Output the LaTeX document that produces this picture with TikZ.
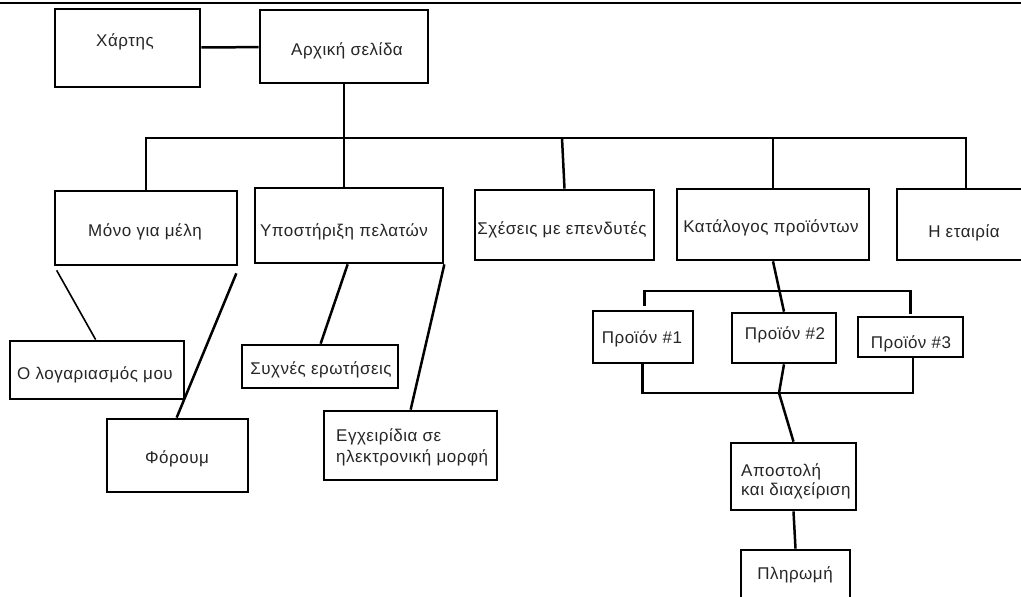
\documentclass[tikz,border=0pt]{standalone}
\usepackage{fontspec}
\setmainfont{Liberation Sans}[LetterSpace=3]
\usetikzlibrary{calc}
\begin{document}
\begin{tikzpicture}[x=1pt,y=-1pt,
  box/.style={draw=black, line width=2.7pt, rectangle, inner sep=0pt},
  lbl/.style={anchor=base, inner sep=0pt, text=black!85, font=\fontsize{17}{20}\selectfont},
  lblw/.style={lbl, anchor=base west, align=left},
  wire/.style={draw=black, line width=2.5pt}]
\useasboundingbox (0,0) rectangle (1021,597);
\clip (0,0) rectangle (1021,597);
\fill[white] (0,0) rectangle (1021,597);

% rule across the top
\coordinate (ruleL) at (0,3);
\coordinate (ruleR) at (1021,3);
\draw[wire] (ruleL) -- (ruleR);

% boxes
\node[box, minimum width=145, minimum height=78] (harti)     at (127.5,48)  {};
\node[box, minimum width=168, minimum height=73] (arxiki)    at (344,46.5)  {};
\node[box, minimum width=182, minimum height=74] (mono)      at (146,228)   {};
\node[box, minimum width=188, minimum height=75] (ypost)     at (349,225.5) {};
\node[box, minimum width=179, minimum height=70] (sxeseis)   at (564.5,225) {};
\node[box, minimum width=192, minimum height=71] (katalogos) at (773,224.5) {};
\node[box, minimum width=138, minimum height=71] (etairia)   at (966,224.5) {};
\node[box, minimum width=174, minimum height=58] (logar)     at (97,370)    {};
\node[box, minimum width=141, minimum height=73] (forum)     at (177.5,455.5) {};
\node[box, minimum width=156, minimum height=43] (syxnes)    at (320,366.5) {};
\node[box, minimum width=173, minimum height=69] (egxeir)    at (410.5,445.5) {};
\node[box, minimum width=100, minimum height=52] (p1)        at (643,337)   {};
\node[box, minimum width=104, minimum height=50] (p2)        at (784,338)   {};
\node[box, minimum width=105, minimum height=40] (p3)        at (910.5,337) {};
\node[box, minimum width=125, minimum height=67] (apostoli)  at (793.5,476.5) {};
\node[box, minimum width=109, minimum height=60] (plirwmi)   at (795.5,580) {};

% labels (two-line labels are placed by their last baseline)
\node[lbl] (tharti)     at (125,46)  {Χάρτης};
\node[lbl] (tarxiki)    at (347,56)  {Αρχική σελίδα};
\node[lbl] (tmono)      at (145,236) {Μόνο για μέλη};
\node[lbl] (typost)     at (344,236) {Υποστήριξη πελατών};
\node[lbl] (tsxeseis)   at (562,234) {Σχέσεις με επενδυτές};
\node[lbl] (tkatalogos) at (771,232) {Κατάλογος προϊόντων};
\node[lbl] (tetairia)   at (964,237) {Η εταιρία};
\node[lbl] (tlogar)     at (95,379)  {Ο λογαριασμός μου};
\node[lbl] (tforum)     at (177,463) {Φόρουμ};
\node[lbl] (tsyxnes)    at (321,374) {Συχνές ερωτήσεις};
\node[lblw, font=\fontsize{17}{21}\selectfont] (tegxeir) at (336,462.7) {Εγχειρίδια σε\\ηλεκτρονική μορφή};
\node[lbl] (tp1)        at (642,343) {Προϊόν \#1};
\node[lbl] (tp2)        at (785,339) {Προϊόν \#2};
\node[lbl] (tp3)        at (911,348) {Προϊόν \#3};
\node[lblw, font=\fontsize{17}{19}\selectfont] (tapostoli) at (741,495) {Αποστολή\\και διαχείριση};
\node[lbl] (tplirwmi)   at (795,579) {Πληρωμή};

% main tree
\coordinate (bus) at (0,138);
\draw[wire] (harti) -- (arxiki);
\draw[wire] (arxiki.south) -- (arxiki.south |- ypost.north);
\draw[wire] (mono.north) -- (mono.north |- bus) -- (etairia.north |- bus) -- (etairia.north);
\draw[wire] ([xshift=-2.5pt]sxeseis.north |- bus) -- (sxeseis.north);
\draw[wire] (katalogos.north |- bus) -- (katalogos.north);

% member and support branches
\draw[wire, line width=1.6pt] ([xshift=3pt,yshift=-4pt]mono.south west) -- ([xshift=87pt]logar.north west);
\draw[wire] ([xshift=-2pt,yshift=-7pt]mono.south east) -- ([xshift=71pt]forum.north west);
\draw[wire] ([xshift=94pt]ypost.south west) -- ([xshift=80pt]syxnes.north west);
\draw[wire] (ypost.south east) -- ([xshift=88pt]egxeir.north west);

% product catalogue
\coordinate (pbusTop) at (0,291);
\coordinate (pbusBot) at (0,393);
\coordinate (pjoin) at (779,393);
\draw[wire] (katalogos.south) -- (p2.north);
\draw[wire] ([xshift=53pt,yshift=4pt]p1.north west) |- (pbusTop -| p3.north) -- ([yshift=2pt]p3.north);
\draw[wire] ([xshift=51pt]p1.south west) |- (pbusBot -| p3.south) -- ([xshift=2.5pt]pbusBot -| p3.south) -- ([xshift=2.5pt]p3.south);
\draw[wire] (p2.south) -- (pjoin) -- (apostoli.north);
\draw[wire] (apostoli.south) -- (plirwmi.north);
\end{tikzpicture}
\end{document}
